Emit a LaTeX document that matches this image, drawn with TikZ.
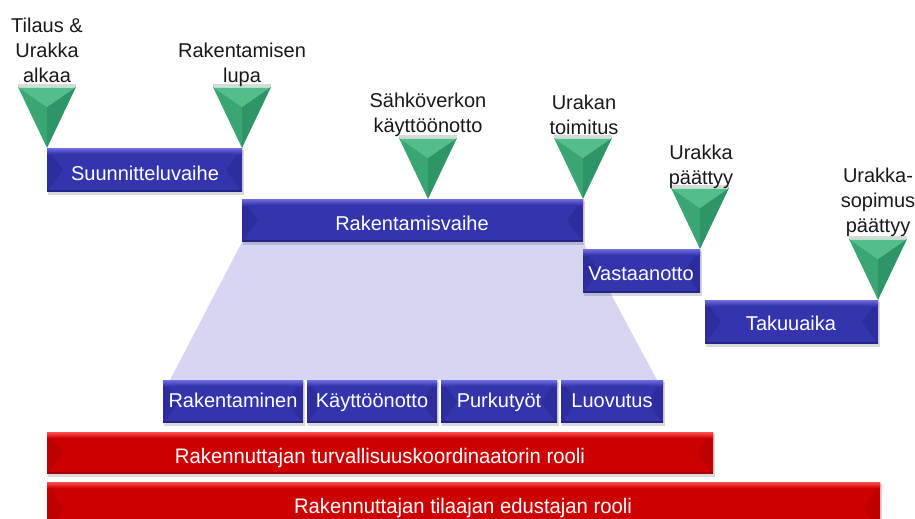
\documentclass[tikz,border=0pt]{standalone}
\usepackage{fontspec}
\setmainfont{Liberation Sans}
\definecolor{bluemain}{RGB}{52,52,172}
\definecolor{bluelight}{RGB}{110,110,222}
\definecolor{blueside}{RGB}{45,45,158}
\definecolor{bluedark}{RGB}{36,36,134}
\definecolor{redmain}{RGB}{204,0,0}
\definecolor{redlight}{RGB}{255,80,80}
\definecolor{redside}{RGB}{190,0,0}
\definecolor{reddark}{RGB}{165,0,0}
\definecolor{fanfill}{RGB}{214,214,242}
\definecolor{gtop}{RGB}{84,190,138}
\definecolor{gleft}{RGB}{58,166,116}
\definecolor{gright}{RGB}{46,150,102}
\definecolor{gedge}{RGB}{165,236,196}
\definecolor{labelgray}{RGB}{25,25,25}

% bevelled bar: x1, y1, x2, y2, palette prefix
\newcommand{\bevbar}[5]{%
  \fill[black,opacity=0.15] (#1+1,#2+2) rectangle (#3+2,#4+3);
  \fill[#5main] (#1,#2) rectangle (#3,#4);
  \fill[#5side] (#1,#2) -- (#1+16,{(#2+#4)/2}) -- (#1,#4) -- cycle;
  \fill[#5side] (#3,#2) -- (#3-16,{(#2+#4)/2}) -- (#3,#4) -- cycle;
  \shade[top color=#5light,bottom color=#5main] (#1,#2) rectangle (#3,#2+6);
  \fill[#5dark] (#1,#4-2) rectangle (#3,#4);
}

% milestone pyramid: apex x, top y
\newcommand{\milestone}[2]{%
  \fill[gray!30] (#1-29,#2-3) rectangle (#1+29,#2);
  \fill[gtop] (#1-29,#2) -- (#1+29,#2) -- (#1,#2+20) -- cycle;
  \fill[gleft] (#1-29,#2) -- (#1,#2+20) -- (#1,#2+61) -- cycle;
  \fill[gright] (#1+29,#2) -- (#1,#2+20) -- (#1,#2+61) -- cycle;
  \draw[gedge,line width=1.4pt] (#1-28,#2+0.7) -- (#1+28,#2+0.7);
}

\tikzset{
  barlabel/.style={text=white,font=\fontsize{20}{24}\selectfont,anchor=base,inner sep=0pt},
  rolelabel/.style={text=white,font=\fontsize{21}{24}\selectfont,anchor=base,inner sep=0pt,xscale=0.965},
  mslabel/.style={text=labelgray,font=\fontsize{20}{25}\selectfont,anchor=north,align=center,inner sep=0pt}
}

\begin{document}
\begin{tikzpicture}[x=1pt,y=-1pt]
\useasboundingbox (0,0) rectangle (915,519);
\clip (0,0) rectangle (915,519);

% expansion of the construction phase
\fill[fanfill] (242,242) -- (583,242) -- (657,380) -- (170,380) -- cycle;

% phases
\bevbar{47}{148}{242}{192}{blue}
\bevbar{242}{199}{583}{242}{blue}
\bevbar{583}{249}{700}{293}{blue}
\bevbar{705}{300}{878}{344}{blue}
\node[barlabel] (suun) at (145,180) {Suunnitteluvaihe};
\node[barlabel] (rak) at (412,230) {Rakentamisvaihe};
\node[barlabel] (vast) at (641,280) {Vastaanotto};
\node[barlabel] (taku) at (791,330) {Takuuaika};

% sub-phases of construction
\bevbar{163}{380}{303}{423}{blue}
\bevbar{307}{380}{437}{423}{blue}
\bevbar{441}{380}{557}{423}{blue}
\bevbar{561}{380}{663}{423}{blue}
\node[barlabel] (s1) at (233,407) {Rakentaminen};
\node[barlabel] (s2) at (372,407) {Käyttöönotto};
\node[barlabel] (s3) at (499,407) {Purkutyöt};
\node[barlabel] (s4) at (612,407) {Luovutus};

% roles
\bevbar{47}{432}{713}{474}{red}
\bevbar{47}{482}{880}{535}{red}
\node[rolelabel] (r1) at (380,463) {Rakennuttajan turvallisuuskoordinaatorin rooli};
\node[rolelabel] (r2) at (463,513) {Rakennuttajan tilaajan edustajan rooli};

% milestones
\milestone{47}{87}
\milestone{242}{87}
\milestone{428}{138}
\milestone{583}{138}
\milestone{700}{188}
\milestone{878}{239}
\node[mslabel] (m1) at (47,17.5) {Tilaus \&\\Urakka\\alkaa};
\node[mslabel] (m2) at (242,42.5) {Rakentamisen\\lupa};
\node[mslabel] (m3) at (428,93) {Sähköverkon\\käyttöönotto};
\node[mslabel] (m4) at (584,95) {Urakan\\toimitus};
\node[mslabel] (m5) at (701,145) {Urakka\\päättyy};
\node[mslabel] (m6) at (878,168) {Urakka-\\sopimus\\päättyy};
\end{tikzpicture}
\end{document}
